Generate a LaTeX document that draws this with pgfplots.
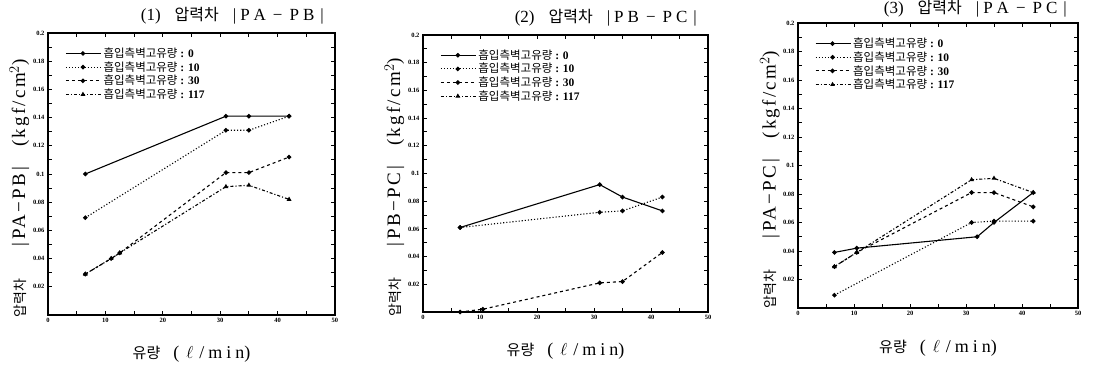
\documentclass[border=0pt]{standalone}
\usepackage{fontspec}
\setmainfont{Liberation Serif}
\newfontfamily\kr{Noto Sans CJK KR}
\newfontfamily\lsf[LetterSpace=12]{Liberation Serif}
\newfontfamily\lsg[LetterSpace=22]{Liberation Serif}
\usepackage{pgfplots}
\pgfplotsset{compat=1.18}
\pgfplotsset{
 panel/.style={
  scale only axis,
  xmin=0,xmax=50,ymin=0,ymax=0.2,
  xtick={0,10,20,30,40,50},
  xticklabels={0,10,20,30,40,50},
  ytick={0.02,0.04,0.06,0.08,0.1,0.12,0.14,0.16,0.18,0.2},
  yticklabels={0.02,0.04,0.06,0.08,0.1,0.12,0.14,0.16,0.18,0.2},
  minor x tick num=1, minor y tick num=1,
  tick align=inside,
  major tick length=4pt, minor tick length=4pt,
  tick style={black, line width=0.9pt},
  axis line style={line width=1.3pt},
  tick label style={font=\fontsize{6.5}{6.5}\selectfont\bfseries},
  clip=false,
  legend style={draw=none, fill=none, at={(0.06,0.955)}, anchor=north west,
    row sep=-1.5pt, inner sep=0pt},
  legend cell align=left,
  legend image code/.code={\draw[mark repeat=2,mark phase=2,##1] plot coordinates {(0pt,0pt) (17pt,0pt) (35pt,0pt)};},
  every axis plot/.append style={black, line width=1.1pt, mark size=1.7pt},
  title style={at={(axis description cs:1,1)}, anchor=base east, xshift=-11pt, inner sep=0pt, yshift=6pt},
  ylabel style={at={(axis description cs:-0.1,0.45)}, anchor=center},
  xlabel style={at={(axis description cs:0.5,-0.14)}, anchor=center},
  xlabel={{\fontsize{15}{15}\selectfont\kr 유량}\hspace{13pt}{\fontsize{18}{18}\selectfont(\hspace{7pt}$\ell$\hspace{6pt}{\lsg /min})}},
 },
 s0/.style={solid, mark=*},
 s10/.style={dotted, mark=*, mark options={solid}},
 s30/.style={dashed, mark=*, mark options={solid}},
 s117/.style={dash dot, mark=triangle*, mark options={solid}},
}
\newcommand{\leg}[1]{\fontsize{11.5}{11.5}\selectfont\rule{0pt}{8.5pt}\rule[-2pt]{0pt}{2pt}{\kr 흡입측벽고유량}\ \textbf{: #1}}
\newcommand{\ttl}[5]{\mbox{\fontsize{17}{17}\selectfont #1\hspace{14pt}{\fontsize{16}{16}\selectfont\kr 압력차}\hspace{14pt}|\hspace{4pt}#2\hspace{4pt}#3\hspace{7pt}−\hspace{7pt}#4\hspace{4pt}#5\hspace{6pt}|}}
\newcommand{\ylab}[2]{\mbox{{\fontsize{14}{14}\selectfont\kr 압력차}\hspace{32pt}{\fontsize{19}{19}\selectfont\lsf |\,#1−#2\,|}\hspace{20pt}{\fontsize{19}{19}\selectfont{\lsf (kgf/cm}$^{2}${\lsf )}}}}
\begin{document}
\begin{tikzpicture}
\path[use as bounding box] (0,0) rectangle (1096pt,369pt);
% panel 1
\begin{axis}[panel, at={(48pt,54pt)}, anchor=south west, width=287pt, height=282pt,
  title={\ttl{(1)}{P}{A}{P}{B}},
  ylabel={\ylab{PA}{PB}}]
\addplot[s0] coordinates {(6.5,0.100) (31,0.141) (35,0.141) (42,0.141)};
\addlegendentry{\leg{0}}
\addplot[s10] coordinates {(6.5,0.069) (31,0.131) (35,0.131) (42,0.141)};
\addlegendentry{\leg{10}}
\addplot[s30] coordinates {(6.5,0.029) (11,0.040) (12.5,0.044) (31,0.101) (35,0.101) (42,0.112)};
\addlegendentry{\leg{30}}
\addplot[s117] coordinates {(6.5,0.029) (11,0.040) (12.5,0.044) (31,0.091) (35,0.092) (42,0.082)};
\addlegendentry{\leg{117}}
\end{axis}
% panel 2
\begin{axis}[panel, at={(423pt,57pt)}, anchor=south west, width=285pt, height=277pt,
  title={\ttl{(2)}{P}{B}{P}{C}},
  ylabel={\ylab{PB}{PC}}]
\addplot[s0] coordinates {(6.5,0.061) (31,0.092) (35,0.083) (42,0.073)};
\addlegendentry{\leg{0}}
\addplot[s10] coordinates {(6.5,0.061) (31,0.072) (35,0.073) (42,0.083)};
\addlegendentry{\leg{10}}
\addplot[s30] coordinates {(6.5,0.000) (10.5,0.002) (31,0.021) (35,0.022) (42,0.043)};
\addlegendentry{\leg{30}}
\addlegendimage{s117}
\addlegendentry{\leg{117}}
\end{axis}
% panel 3
\begin{axis}[panel, at={(798pt,61pt)}, anchor=south west, width=280pt, height=285pt,
  title style={yshift=-2.5pt},
  title={\ttl{(3)}{P}{A}{P}{C}},
  ylabel={\ylab{PA}{PC}}]
\addplot[s0] coordinates {(6.5,0.039) (10.5,0.042) (32,0.050) (35,0.060) (42,0.081)};
\addlegendentry{\leg{0}}
\addplot[s10] coordinates {(6.5,0.009) (31,0.060) (35,0.061) (42,0.061)};
\addlegendentry{\leg{10}}
\addplot[s30] coordinates {(6.5,0.029) (10.5,0.039) (31,0.081) (35,0.081) (42,0.071)};
\addlegendentry{\leg{30}}
\addplot[s117] coordinates {(6.5,0.029) (10.5,0.039) (31,0.090) (35,0.091) (42,0.081)};
\addlegendentry{\leg{117}}
\end{axis}
\end{tikzpicture}
\end{document}
